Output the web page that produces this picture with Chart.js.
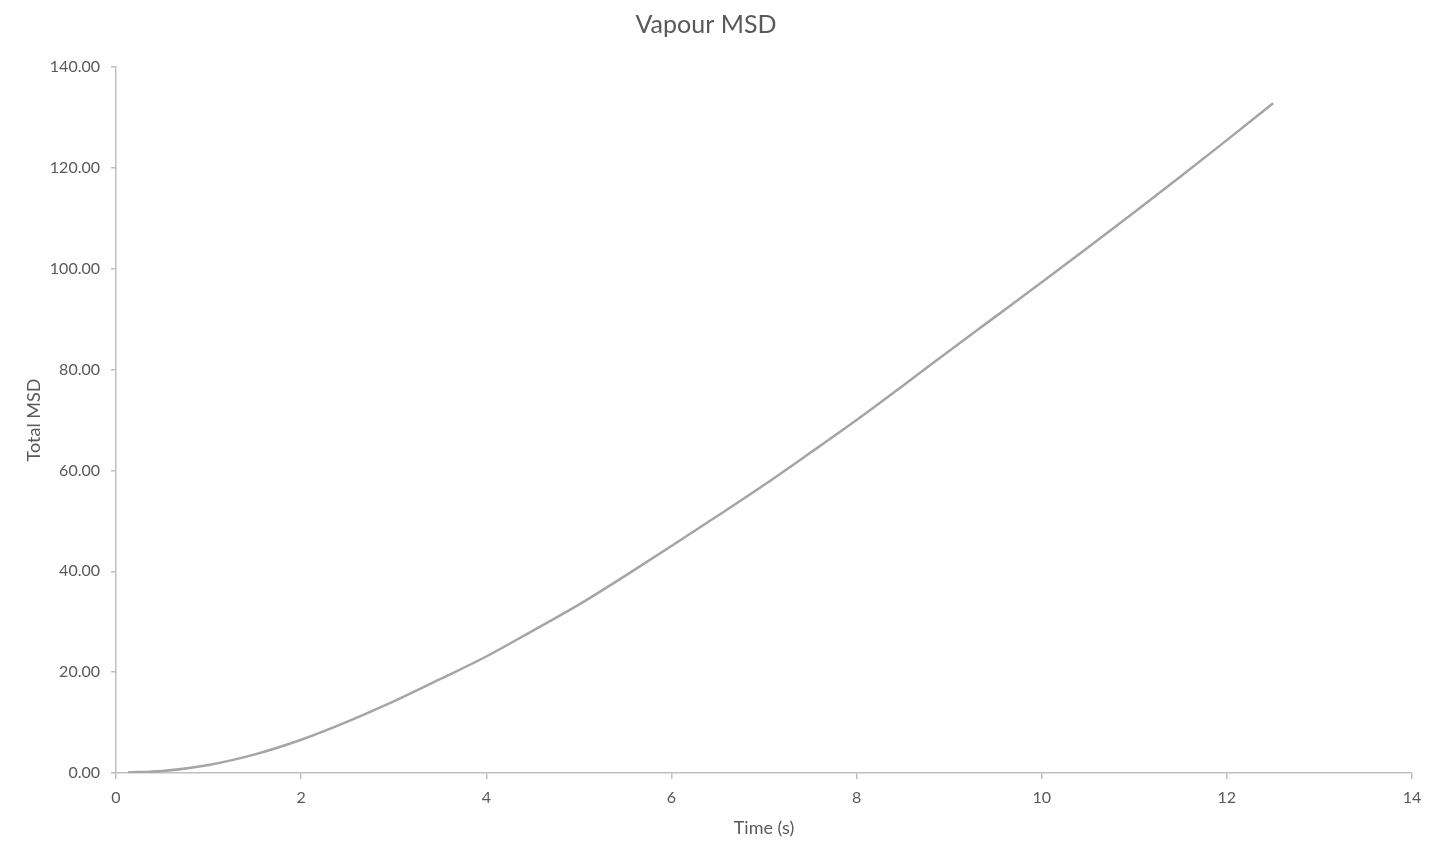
<!DOCTYPE html>
<html>
<head>
<meta charset="utf-8">
<title>Vapour MSD</title>
<script src="https://cdn.jsdelivr.net/npm/chart.js@4"></script>
<style>
	html, body { margin: 0; padding: 0; background: #fff; }
	#wrap { width: 1438px; height: 854px; }
</style>
</head>
<body>
<div id="wrap"><canvas id="msdChart"></canvas></div>
<script>
// values
var times = [0.13, 0.5, 1, 1.5, 2, 2.5, 3, 3.5, 4, 4.5, 5, 5.5, 6, 6.5, 7, 7.5, 8, 8.5, 9, 9.5, 10, 10.5, 11, 11.5, 12, 12.5];
var msd = [0.1, 0.4, 1.6, 3.7, 6.6, 10.2, 14.2, 18.6, 23.1, 28.2, 33.4, 39.1, 45.0, 51.0, 57.1, 63.5, 70.0, 76.8, 83.7, 90.5, 97.3, 104.2, 111.2, 118.3, 125.5, 132.8];
var xTicks = [0, 2, 4, 6, 8, 10, 12, 14];
var yTicks = [0, 20, 40, 60, 80, 100, 120, 140];

var textColor = '#595959';
var axisColor = '#bfbfbf';
var fontFamily = 'Lato, "Open Sans", sans-serif';

var points = [];
for ( var i = 0; i < times.length; i++ ) {
	points.push( { x: times[i], y: msd[i] } );
}

var ctx = document.getElementById( 'msdChart' ).getContext( '2d' );

new Chart( ctx, {
	type: 'line',
	data: {
		datasets: [{
			label: 'Total MSD',
			data: points,
			borderColor: '#a5a5a5',
			borderWidth: 2.5,
			pointRadius: 0,
			fill: false,
			cubicInterpolationMode: 'monotone'
		}]
	},
	options: {
		responsive: true,
		maintainAspectRatio: false,
		animation: false,
		layout: {
			padding: { left: 0, right: 26, top: 0, bottom: 0 }
		},
		plugins: {
			legend: { display: false },
			tooltip: { enabled: false },
			title: {
				display: true,
				text: 'Vapour MSD',
				color: textColor,
				font: { family: fontFamily, size: 25, weight: 'normal' },
				padding: { top: 10, bottom: 27 }
			}
		},
		scales: {
			x: {
				type: 'linear',
				min: xTicks[0],
				max: xTicks[xTicks.length - 1],
				afterBuildTicks: function( scale ) {
					scale.ticks = xTicks.map( function( v ) { return { value: v }; } );
				},
				afterFit: function( scale ) {
					scale.height = 81;
				},
				border: { display: true, color: axisColor, width: 1.5 },
				grid: { drawOnChartArea: false, drawTicks: true, tickLength: 6, color: axisColor, lineWidth: 1.5 },
				ticks: { color: textColor, font: { family: fontFamily, size: 16 }, padding: 9, maxRotation: 0 },
				title: {
					display: true,
					text: 'Time (s)',
					color: textColor,
					font: { family: fontFamily, size: 18 },
					padding: { top: 0, bottom: 15 }
				}
			},
			y: {
				type: 'linear',
				min: yTicks[0],
				max: yTicks[yTicks.length - 1],
				afterBuildTicks: function( scale ) {
					scale.ticks = yTicks.map( function( v ) { return { value: v }; } );
				},
				afterFit: function( scale ) {
					scale.width = 116;
				},
				border: { display: true, color: axisColor, width: 1.5 },
				grid: { drawOnChartArea: false, drawTicks: true, tickLength: 5, color: axisColor, lineWidth: 1.5 },
				ticks: {
					color: textColor,
					font: { family: fontFamily, size: 16 },
					padding: 11,
					callback: function( value ) { return Number( value ).toFixed( 2 ); }
				},
				title: {
					display: true,
					text: 'Total MSD',
					color: textColor,
					font: { family: fontFamily, size: 18 },
					padding: { top: 23, bottom: 0 }
				}
			}
		}
	}
} );
</script>
</body>
</html>
